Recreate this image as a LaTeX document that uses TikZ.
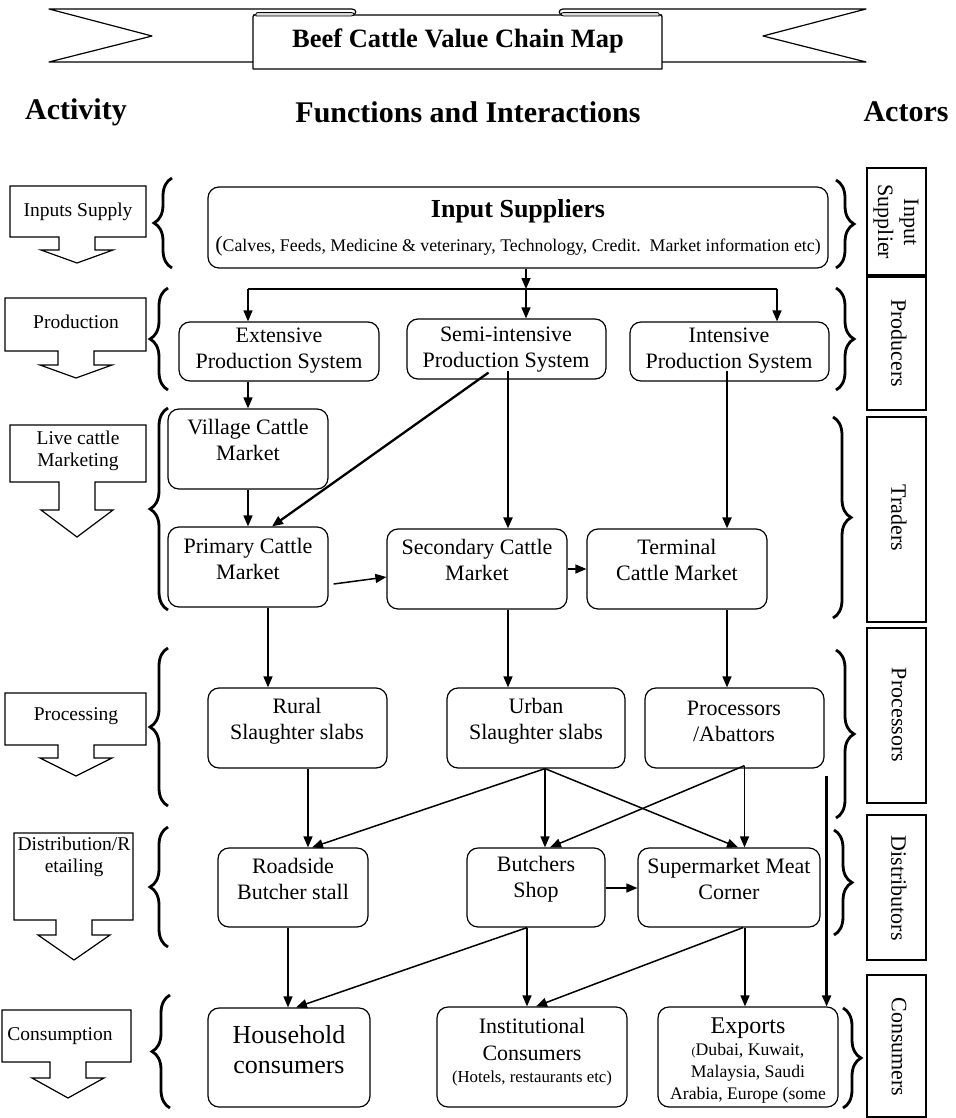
\documentclass[tikz,border=0pt]{standalone}
\usepackage{fontspec}
\setmainfont{Liberation Serif}
\usetikzlibrary{arrows.meta,decorations.pathreplacing,calc}
\newcommand\fsz[2]{\fontsize{#1}{#2}\selectfont}
\newcommand\mkbox[5]{\node[box, minimum width={(#4-#2)*1pt}, minimum height={(#5-#3)*1pt}] (#1) at ({(#2+#4)/2},{(#3+#5)/2}) {};}
% activity callout: name, x1,y1,x2,y2, ystem, ytip, cx
\newcommand\actshape[8]{\draw[act] (#2,#3) -- (#4,#3) -- (#4,#5) -- ({#8+18},#5) -- ({#8+18},#6) -- ({#8+36},#6) -- (#8,#7) -- ({#8-36},#6) -- ({#8-18},#6) -- ({#8-18},#5) -- (#2,#5) -- cycle;}
\newcommand\actorbox[3]{\node[actor, minimum width=59pt, minimum height={(#3-#2)*1pt}] (#1) at (896.5,{(#2+#3)/2}) {};}
\tikzset{
  box/.style={draw, rounded corners=11pt, line width=1.2pt, inner sep=0pt},
  lab/.style={align=center, inner sep=0pt, font=\fsz{22}{26}},
  arr/.style={-{Triangle[length=11pt,width=9pt]}, line width=1.5pt},
  thk/.style={arr, line width=2.3pt},
  lbrc/.style={decorate, decoration={brace, amplitude=18pt}, line width=2.8pt},
  act/.style={draw, line width=1.2pt, fill=white},
  actlab/.style={align=center, inner sep=0pt, font=\fsz{19.5}{22}},
  actor/.style={draw, line width=2pt, inner sep=0pt},
  actorlab/.style={rotate=-90, align=center, inner sep=0pt, font=\fsz{22}{26}},
  ban/.style={draw, line width=1.2pt, fill=white, line join=round},
  roll/.style={draw, line width=0.8pt, fill=gray!30},
  head/.style={inner sep=0pt, font=\fsz{30}{34}\bfseries},
}
\begin{document}
\begin{tikzpicture}[x=1pt,y=-1pt]
\useasboundingbox (0,0) rectangle (955,1118);
% ---------------- banner
\draw[ban] (253,62) -- (49,62) -- (152,36) -- (49,9) -- (352,9) .. controls (357,9) and (357,15) .. (352,15) -- (253,15);
\draw[ban] (662,62) -- (866,62) -- (763,36) -- (866,9) -- (563,9) .. controls (558,9) and (558,15) .. (563,15) -- (662,15);
\draw[ban] (253,69) -- (253,19) .. controls (253,15) .. (257,15) -- (658,15) .. controls (662,15) .. (662,19) -- (662,69) -- cycle;
\draw[roll] (256,16) .. controls (256,12.5) .. (260,12.5) -- (351,12.5) .. controls (355,12.5) and (355,16) .. (351,16) -- cycle;
\draw[roll] (659,16) .. controls (659,12.5) .. (655,12.5) -- (564,12.5) .. controls (560,12.5) and (560,16) .. (564,16) -- cycle;
\node[inner sep=0pt, font=\fsz{26.5}{30}\bfseries] (title) at (458,41) {Beef Cattle Value Chain Map};
% ---------------- headers
\node[head] (hact) at (76,112) {Activity};
\node[head] (hfun) at (468,112) {Functions and Interactions};
\node[head] (hactor) at (906,112) {Actors};
% ---------------- activity callouts
\actshape{a1}{10}{186}{146}{237}{250}{263}{77}
\node[actlab] (a1t) at (78,212) {Inputs Supply};
\actshape{a2}{5}{298}{146}{351}{365}{378}{76}
\node[actlab] (a2t) at (76,322) {Production};
\actshape{a3}{10}{425}{146}{482}{510}{537}{77}
\node[actlab] (a3t) at (78,451) {Live cattle\\Marketing};
\actshape{a4}{5}{693}{146}{745}{758}{776}{76}
\node[actlab] (a4t) at (76,716) {Processing};
\actshape{a5}{14}{833}{133}{920}{935}{960}{74}
\node[actlab] (a5t) at (74,857) {Distribution/R\\etailing};
\actshape{a6}{2}{1010}{131}{1062}{1078}{1098}{68}
\node[actlab] (a6t) at (60,1036) {Consumption};
% ---------------- left braces
\draw[lbrc] (172,268) -- (172,178);
\draw[lbrc] (168,390) -- (168,288);
\draw[lbrc] (168,610) -- (168,408);
\draw[lbrc] (168,806) -- (168,648);
\draw[lbrc] (168,947) -- (168,827);
\draw[lbrc] (170,1108) -- (170,995);
% ---------------- right braces
\draw[lbrc] (836,180) -- (836,268);
\draw[lbrc] (836,288) -- (836,390);
\draw[lbrc] (833,417) -- (833,618);
\draw[lbrc] (836,650) -- (836,818);
\draw[lbrc] (834,830) -- (834,935);
\draw[lbrc] (843,1008) -- (843,1108);
% ---------------- actor boxes
\actorbox{r1}{168}{275}
\actorbox{r2}{277}{410}
\actorbox{r3}{417}{622}
\actorbox{r4}{628}{803}
\actorbox{r5}{815}{960}
\actorbox{r6}{975}{1117}
\node[actorlab] (r1t) at (896,222) {Input\\Supplier};
\node[actorlab] (r2t) at (899,343) {Producers};
\node[actorlab] (r3t) at (899,518) {Traders};
\node[actorlab] (r4t) at (899,715) {Processors};
\node[actorlab] (r5t) at (899,888) {Distributors};
\node[actorlab] (r6t) at (899,1047) {Consumers};
% ---------------- main boxes
\mkbox{inp}{208}{187}{828}{268}
\mkbox{ext}{179}{322}{379}{381}
\mkbox{semi}{407}{319}{606}{379}
\mkbox{int}{630}{322}{829}{381}
\mkbox{vil}{168}{409}{328}{489}
\mkbox{pri}{168}{527}{328}{607}
\mkbox{sec}{387}{529}{567}{609}
\mkbox{ter}{587}{529}{767}{609}
\mkbox{rur}{208}{688}{387}{768}
\mkbox{urb}{447}{688}{625}{768}
\mkbox{pro}{645}{688}{824}{768}
\mkbox{rod}{218}{848}{368}{927}
\mkbox{but}{467}{848}{605}{927}
\mkbox{sup}{638}{848}{820}{927}
\mkbox{hou}{208}{1008}{370}{1107}
\mkbox{ins}{437}{1007}{627}{1107}
\mkbox{exp}{658}{1007}{838}{1107}
% ---------------- box texts
\node[inner sep=0pt, font=\fsz{26}{30}\bfseries] (inpt) at (518,211) {Input Suppliers};
\node[inner sep=0pt, font=\fsz{17.8}{20}] (inps) at (518,246) {{\fsz{22}{22}(}Calves, Feeds, Medicine \& veterinary, Technology, Credit.\ \ Market information etc)};
\node[lab] (extt) at (279,351) {Extensive\\Production System};
\node[lab] (semit) at (506,350) {Semi-intensive\\Production System};
\node[lab] (intt) at (729,351) {Intensive\\Production System};
\node[lab] (vilt) at (248,440) {Village Cattle\\Market};
\node[lab] (prit) at (248,559) {Primary Cattle\\Market};
\node[lab] (sect) at (477,560) {Secondary Cattle\\Market};
\node[lab] (tert) at (677,560) {Terminal\\Cattle Market};
\node[lab] (rurt) at (297,721) {Rural\\Slaughter slabs};
\node[lab] (urbt) at (536,721) {Urban\\Slaughter slabs};
\node[lab] (prot) at (734,721) {Processors\\/Abattors};
\node[lab] (rodt) at (293,879) {Roadside\\Butcher stall};
\node[lab] (butt) at (536,879) {Butchers\\Shop};
\node[lab] (supt) at (729,879) {Supermarket Meat\\Corner};
\node[lab, font=\fsz{26}{30}] (hout) at (289,1050) {Household\\consumers};
\node[lab] (inst1) at (532,1026) {Institutional};
\node[lab] (inst2) at (532,1053) {Consumers};
\node[lab, font=\fsz{16.8}{20}] (inst3) at (532,1078) {(Hotels, restaurants etc)};
\node[lab, font=\fsz{24}{28}] (expt1) at (748,1028) {Exports};
\node[lab, font=\fsz{17.7}{22}] (expt2) at (748,1073) {{\fsz{12}{12}(}Dubai, Kuwait,\\Malaysia, Saudi\\Arabia, Europe (some};
% ---------------- connectors
\coordinate (j) at (526,289);
\coordinate (jl) at (248,289);
\coordinate (jr) at (777,289);
\draw[arr] (inp.south -| j) -- (j);
\draw[line width=1.5pt] (jl) -- (jr);
\draw[arr] (jl) -- (ext.north -| jl);
\draw[arr] (j) -- (semi.north -| j);
\draw[arr] (jr) -- (int.north -| jr);
\draw[arr] (ext.south -| jl) -- (vil.north -| jl);
\draw[arr] (vil.south) -- (pri.north);
\coordinate (sd) at ($(semi.south)+(-18,-7)$);
\draw[thk] (sd) -- ($(pri.north)+(24,0)$);
\coordinate (s2) at (508,371);
\draw[thk] (s2) -- (sec.north -| s2);
\coordinate (i2) at (727,371);
\draw[thk] (i2) -- (ter.north -| i2);
\draw[arr] ($(pri.east)+(5,17)$) -- (sec.west |- 0,577);
\draw[arr] (sec.east |- 0,569) -- (ter.west |- 0,569);
% processing
\draw[arr] (pri.south -| 268,0) -- (rur.north -| 268,0);
\draw[arr] (sec.south -| 508,0) -- (urb.north -| 508,0);
\draw[arr] (ter.south -| 727,0) -- (pro.north -| 727,0);
% distribution
\coordinate (u) at ($(urb.south)+(9,0)$);
\coordinate (p) at ($(pro.south)+(10,-3)$);
\draw[arr] (rur.south -| 308,0) -- (rod.north -| 308,0);
\draw[arr] (u) -- (rod.north -| 312,0);
\draw[arr] (u) -- (but.north -| u);
\draw[arr] (u) -- (sup.north -| 738,0);
\draw[arr] (p) -- (but.north -| 550,0);
\draw[arr] (p) -- (sup.north -| p);
\draw[arr] (but.east |- 0,888) -- (sup.west |- 0,888);
\coordinate (pl) at ($(pro.south east)+(2,7)$);
\draw[thk] (pl) -- (exp.north -| pl);
% consumption
\draw[arr] (rod.south -| 288,0) -- (hou.north -| 288,0);
\draw[arr] (but.south -| 527,0) -- (hou.north -| 296,0);
\draw[arr] (but.south -| 527,0) -- (ins.north -| 527,0);
\draw[arr] (sup.south -| 743,0) -- (ins.north -| 536,0);
\draw[arr] (sup.south -| 745,0) -- (exp.north -| 745,0);
\end{tikzpicture}
\end{document}
